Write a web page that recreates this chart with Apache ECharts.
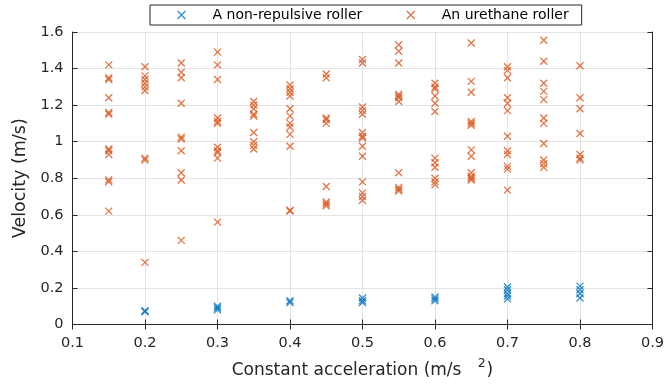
<!DOCTYPE html>
<html>
<head>
<meta charset="utf-8">
<script src="https://cdn.jsdelivr.net/npm/echarts@6/dist/echarts.min.js"></script>
<style>
  html, body { margin: 0; padding: 0; background: #fff; }
  #chart { width: 667px; height: 385px; }
</style>
</head>
<body>
<div id="chart"></div>
<script>
// accelerations (m/s^2) and the velocities measured at each
const urethaneAcc = [0.15, 0.2, 0.25, 0.3, 0.35, 0.4, 0.45, 0.5, 0.55, 0.6, 0.65, 0.7, 0.75, 0.8]
const urethaneVel = [
  [1.42, 1.35, 1.34, 1.24, 1.16, 1.15, 0.96, 0.95, 0.93, 0.79, 0.78, 0.62],
  [1.41, 1.36, 1.34, 1.32, 1.30, 1.28, 0.91, 0.90, 0.34],
  [1.43, 1.38, 1.35, 1.21, 1.025, 1.015, 0.95, 0.83, 0.79, 0.46],
  [1.49, 1.42, 1.34, 1.13, 1.11, 1.10, 0.97, 0.95, 0.94, 0.91, 0.56],
  [1.22, 1.20, 1.18, 1.15, 1.14, 1.05, 1.00, 0.98, 0.96],
  [1.31, 1.29, 1.27, 1.25, 1.18, 1.14, 1.10, 1.08, 1.04, 0.975, 0.625, 0.62],
  [1.37, 1.35, 1.13, 1.12, 1.10, 0.755, 0.67, 0.66, 0.65],
  [1.45, 1.43, 1.19, 1.17, 1.15, 1.05, 1.03, 1.02, 0.975, 0.92, 0.78, 0.72, 0.70, 0.68],
  [1.53, 1.495, 1.43, 1.26, 1.25, 1.24, 1.22, 0.83, 0.75, 0.74, 0.73],
  [1.32, 1.30, 1.29, 1.25, 1.21, 1.165, 0.91, 0.885, 0.86, 0.80, 0.78, 0.765],
  [1.54, 1.33, 1.27, 1.11, 1.10, 1.09, 0.955, 0.92, 0.83, 0.81, 0.80, 0.79],
  [1.41, 1.39, 1.35, 1.24, 1.21, 1.17, 1.03, 0.95, 0.93, 0.865, 0.85, 0.735],
  [1.555, 1.44, 1.32, 1.275, 1.23, 1.13, 1.10, 0.99, 0.90, 0.88, 0.86],
  [1.415, 1.24, 1.18, 1.045, 0.93, 0.91, 0.90]
]
const plainAcc = [0.2, 0.3, 0.4, 0.5, 0.6, 0.7, 0.8]
const plainVel = [
  [0.075, 0.07],
  [0.10, 0.09, 0.08],
  [0.13, 0.12],
  [0.145, 0.13, 0.12],
  [0.15, 0.14, 0.13],
  [0.205, 0.19, 0.17, 0.155, 0.14],
  [0.21, 0.19, 0.17, 0.145]
]

function pairs(acc, vel) {
  const out = []
  acc.forEach((a, i) => vel[i].forEach(v => out.push([a, v])))
  return out
}

const cross = 'path://M0,0L10,10M10,0L0,10'
const textColor = '#262626'
const font = 'DejaVu Sans'

function markStyle(color) {
  return { color: 'none', borderColor: color, borderWidth: 1.3 }
}

// matlab style box: plain axes on top / right, ticks only
function boxAxis(extra) {
  return Object.assign({
    type: 'value',
    axisLine: { show: true, lineStyle: { color: textColor } },
    axisTick: { show: true, inside: true, length: 5, lineStyle: { color: textColor } },
    axisLabel: { show: false },
    splitLine: { show: false }
  }, extra)
}

const chart = echarts.init(document.getElementById('chart'))
chart.setOption({
  animation: false,
  textStyle: { fontFamily: font },
  grid: { left: 72.5, right: 10.5, top: 32, bottom: 60.5 },
  legend: {
    top: 5,
    left: 150,
    itemGap: 42,
    itemWidth: 14,
    itemHeight: 8,
    padding: [3, 13, 3, 25],
    borderColor: '#262626',
    borderWidth: 1,
    borderRadius: 0,
    textStyle: { fontSize: 14, color: '#000', fontFamily: font, padding: [0, 0, 0, 19] },
    data: [
      { name: 'A non-repulsive roller', icon: cross, itemStyle: markStyle('#0072BD') },
      { name: 'An urethane roller', icon: cross, itemStyle: markStyle('#D95319') }
    ]
  },
  xAxis: [{
    type: 'value',
    min: 0.1,
    max: 0.9,
    interval: 0.1,
    name: 'Constant acceleration (m/s   {sup|2})',
    nameLocation: 'middle',
    nameGap: 33,
    nameTextStyle: {
      fontSize: 17, color: textColor, fontFamily: font,
      rich: { sup: { fontSize: 12.5, fontFamily: font, color: textColor, padding: [0, 1, 14, 0] } }
    },
    axisLine: { show: true, lineStyle: { color: textColor, width: 1 } },
    axisTick: { show: true, inside: true, length: 5, lineStyle: { color: textColor } },
    axisLabel: { fontSize: 14.5, color: textColor, margin: 11, formatter: v => +v.toFixed(1) },
    splitLine: { show: true, lineStyle: { color: '#e3e3e3' } }
  }, boxAxis({ position: 'top', min: 0.1, max: 0.9, interval: 0.1 })],
  yAxis: [{
    type: 'value',
    min: 0,
    max: 1.6,
    interval: 0.2,
    name: 'Velocity (m/s)',
    nameLocation: 'middle',
    nameGap: 34,
    nameTextStyle: { fontSize: 17.5, color: textColor, fontFamily: font },
    axisLine: { show: true, lineStyle: { color: textColor, width: 1 } },
    axisTick: { show: true, inside: true, length: 5, lineStyle: { color: textColor } },
    axisLabel: { fontSize: 14.5, color: textColor, margin: 9, formatter: v => +v.toFixed(1) },
    splitLine: { show: true, lineStyle: { color: '#e3e3e3' } }
  }, boxAxis({ position: 'right', min: 0, max: 1.6, interval: 0.2 })],
  series: [{
    name: 'A non-repulsive roller',
    type: 'scatter',
    symbol: cross,
    symbolSize: 7,
    itemStyle: markStyle('#0072BD'),
    data: pairs(plainAcc, plainVel)
  }, {
    name: 'An urethane roller',
    type: 'scatter',
    symbol: cross,
    symbolSize: 7,
    itemStyle: markStyle('#D95319'),
    data: pairs(urethaneAcc, urethaneVel)
  }]
})
</script>
</body>
</html>
